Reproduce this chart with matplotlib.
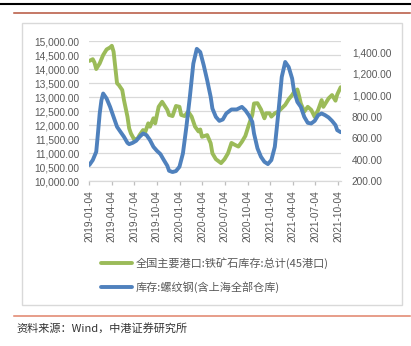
import numpy as np
import pandas as pd
import matplotlib
matplotlib.use("Agg")
import matplotlib.pyplot as plt
from matplotlib.lines import Line2D
from matplotlib.patches import Rectangle

# Weekly observations, indexed by weeks since 2019-01-04
start = pd.Timestamp("2019-01-04")

ore_weeks = [0, 2, 3, 4, 6, 8, 10, 12, 13, 14, 16, 17, 19, 20, 22, 23, 24, 26, 28, 29,
             31, 32, 34, 35, 37, 38, 40, 42, 45, 46, 48, 50, 52, 53, 55, 57, 59, 61, 63, 64,
             65, 68, 70, 71, 73, 76, 78, 80, 82, 84, 86, 88, 90, 92, 94, 95, 97, 99, 101, 102,
             104, 105, 107, 109, 111, 113, 115, 117, 118, 120, 121, 122, 124, 126, 128, 130, 132, 134, 135, 138,
             140, 142, 143, 145]
ore_stock = [14300, 14360, 14240, 14010, 14210, 14510, 14710, 14780, 14840, 14630,
             13500, 13440, 13260, 12900, 12310, 11890, 11710, 11480, 11540, 11650,
             11830, 11710, 12070, 11950, 12250, 12070, 12660, 12840, 12550, 12370,
             12330, 12690, 12660, 12370, 12330, 12490, 12310, 11950, 11780, 11850,
             11590, 11650, 11360, 11000, 10790, 10650, 10790, 11000, 11370, 11300,
             11240, 11410, 11620, 12010, 12370, 12780, 12790, 12570, 12250, 12430,
             12430, 12310, 12430, 12490, 12610, 12730, 12930, 13080, 13180, 13280,
             13050, 12780, 12490, 12660, 12550, 12300, 12550, 12900, 12660, 12960,
             13080, 12880, 13100, 13360]

rebar_weeks = [0, 2, 4, 5, 6, 7, 8, 10, 12, 14, 16, 18, 20, 22, 23, 25, 27, 29, 31, 33,
               35, 37, 39, 41, 43, 45, 46, 48, 50, 52, 54, 56, 58, 60, 62, 64, 66, 68, 70, 71,
               73, 75, 77, 79, 82, 85, 88, 90, 92, 94, 95, 97, 99, 101, 103, 105, 107, 109, 111, 113,
               115, 117, 118, 120, 122, 124, 126, 128, 130, 132, 134, 136, 138, 140, 142, 143, 145]
rebar_stock = [351, 397, 474, 647, 830, 953, 1015, 968, 891, 798,
               706, 659, 613, 557, 545, 557, 576, 613, 644, 629,
               582, 520, 483, 453, 397, 344, 298, 286, 295, 335,
               459, 706, 984, 1293, 1430, 1400, 1277, 1138, 984, 876,
               798, 761, 774, 830, 867, 867, 891, 860, 814, 752,
               644, 506, 428, 381, 360, 397, 520, 830, 1169, 1308,
               1261, 1154, 1045, 937, 891, 798, 743, 737, 761, 814,
               830, 814, 793, 761, 721, 675, 656]

tick_labels = ["2019-01-04", "2019-04-04", "2019-07-04", "2019-10-04",
               "2020-01-04", "2020-04-04", "2020-07-04", "2020-10-04",
               "2021-01-04", "2021-04-04", "2021-07-04", "2021-10-04"]
left_ticks = np.arange(10000, 15001, 500)
right_ticks = np.arange(200, 1401, 200)

ore_label = "全国主要港口:铁矿石库存:总计(45港口)"
rebar_label = "库存:螺纹钢(含上海全部仓库)"
source_text = "资料来源：Wind，中港证券研究所"

GREEN = "#9BBB59"
BLUE = "#4F81BD"
GRID = "#D9D9D9"
TXT = "#595959"

plt.rcParams["font.family"] = ["Liberation Sans", "Noto Sans CJK SC", "DejaVu Sans"]

W, H = 411, 346
fig = plt.figure(figsize=(W / 100, H / 100), dpi=100)


def fx(px):
    return px / W


def fy(py):
    return 1 - py / H


# outer decorations
fig.add_artist(Line2D([0, fx(410)], [fy(3.5)] * 2, color="black", lw=1.5))
fig.add_artist(Line2D([fx(14), fx(410)], [fy(13.3)] * 2, color="#B5533C", lw=1.1))
fig.add_artist(Line2D([fx(14), fx(410)], [fy(315.7)] * 2, color="#E0836A", lw=1.1))
fig.add_artist(Rectangle((fx(22), fy(305)), fx(401.7) - fx(22), fy(23.3) - fy(305),
                         transform=fig.transFigure, fill=False, ec=GRID, lw=1.0))

ax = fig.add_axes([fx(89.3), fy(181.3), fx(340.7) - fx(89.3), fy(41.3) - fy(181.3)])
ax2 = ax.twinx()

ore_dates = start + pd.to_timedelta(np.array(ore_weeks) * 7, unit="D")
rebar_dates = start + pd.to_timedelta(np.array(rebar_weeks) * 7, unit="D")

ax.plot(ore_dates, ore_stock, color=GREEN, lw=2.8, solid_joinstyle="round", solid_capstyle="round")
ax2.plot(rebar_dates, rebar_stock, color=BLUE, lw=2.8, solid_joinstyle="round", solid_capstyle="round")

ax.set_xlim(start, start + pd.Timedelta(days=145 * 7))
ax.set_ylim(10000, 15000)
ax2.set_ylim(200, 1500)

ax.set_yticks(left_ticks)
ax.set_yticklabels([f"{v:,.2f}" for v in left_ticks])
ax2.set_yticks(right_ticks)
ax2.set_yticklabels([f"{v:,.2f}" for v in right_ticks])

ax.set_xticks(pd.to_datetime(tick_labels))
ax.set_xticklabels(tick_labels, rotation=90)

ax.grid(axis="y", color=GRID, lw=0.9)
ax.set_axisbelow(True)
for s in ["top", "left", "right"]:
    ax.spines[s].set_visible(False)
ax.spines["bottom"].set_color(GRID)
ax.spines["bottom"].set_linewidth(0.9)
for s in ax2.spines.values():
    s.set_visible(False)

ax.tick_params(axis="y", length=0, pad=7, labelsize=7.3, labelcolor=TXT)
ax2.tick_params(axis="y", length=0, pad=8, labelsize=7.3, labelcolor=TXT)
ax.tick_params(axis="x", length=3, width=0.9, color="#BFBFBF", pad=3.5, labelsize=7.3, labelcolor=TXT)

# legend
for y, col, lab in [(263, GREEN, ore_label), (286.7, BLUE, rebar_label)]:
    fig.add_artist(Line2D([fx(101), fx(132)], [fy(y)] * 2, color=col, lw=2.8, solid_capstyle="round"))
    fig.text(fx(136), fy(y), lab, fontsize=8, color=TXT, va="center", ha="left",
             family=["Noto Sans CJK SC", "DejaVu Sans"])

fig.text(fx(16), fy(328), source_text, fontsize=8, color="#333333", va="center", ha="left",
         style="italic", family=["Noto Sans CJK SC", "DejaVu Sans"])

fig.savefig("out.png", dpi=100)
